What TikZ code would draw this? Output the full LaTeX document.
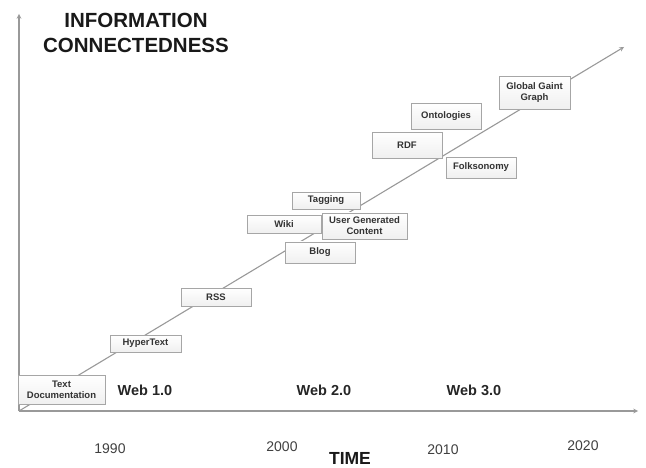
\documentclass[tikz,border=0pt]{standalone}
\usepackage{fontspec}
\setmainfont{Liberation Sans}
\usetikzlibrary{shadows}
\begin{document}
\begin{tikzpicture}[x=1pt, y=-1pt,
    box/.style={draw=gray!70, top color=white, bottom color=gray!12, line width=0.8pt, minimum width=70pt, minimum height=18pt,
        inner sep=1pt, align=center, text=black!80, font=\fontsize{9.5}{11}\selectfont\bfseries,
        drop shadow={shadow xshift=0.8pt, shadow yshift=-0.8pt, opacity=0.25}},
    era/.style={text=black!85, font=\fontsize{14.5}{16}\selectfont\bfseries},
    year/.style={text=black!75, font=\fontsize{14}{16}\selectfont},
    axis/.style={gray!80, line width=1.1pt, -stealth}]
    \useasboundingbox (0,0) rectangle (646,468);

    \coordinate (o) at (19,411);
    \coordinate (tend) at (638,411);
    \coordinate (iend) at (19,14);
    \coordinate (gend) at (624,47);
    \draw[axis] (o) -- (tend);
    \draw[axis] (o) -- (iend);
    \draw[axis] (o) -- (gend);

    \node[text=black!90, align=center, font=\fontsize{20.5}{25}\selectfont\bfseries] (info) at (136,33) {INFORMATION\\CONNECTEDNESS};
    \node[text=black!90, font=\fontsize{17.5}{20}\selectfont\bfseries] (time) at (350,458) {TIME};

    \foreach \yr/\x/\y in {1990/110/449, 2000/282/447, 2010/443/450, 2020/583/446}
        \node[year] (yr\yr) at (\x,\y) {\yr};

    \node[era] (web1) at (145,390) {Web 1.0};
    \node[era] (web2) at (324,390) {Web 2.0};
    \node[era] (web3) at (474,390) {Web 3.0};

    % web 1.0
    \node[box, minimum width=87pt, minimum height=29pt] (textdoc) at (61.5,389.5) {Text\\Documentation};
    \node[box, minimum width=71pt, minimum height=17pt] (hyper) at (145.5,343.5) {HyperText};
    \node[box] (rss) at (216,297) {RSS};

    % web 2.0
    \node[box, minimum width=68pt, minimum height=17pt] (tagging) at (326,200.5) {Tagging};
    \node[box, minimum width=74pt] (wiki) at (284,224) {Wiki};
    \node[box, minimum width=85pt, minimum height=26pt] (ugc) at (364.5,226) {User Generated\\Content};
    \node[box, minimum height=21pt] (blog) at (320,252.5) {Blog};

    % web 3.0
    \node[box, minimum width=71pt, minimum height=33pt] (ggg) at (534.5,92.5) {Global Gaint\\Graph};
    \node[box, minimum height=26pt] (onto) at (446,116) {Ontologies};
    \node[box, minimum height=26pt] (rdf) at (407,145) {RDF};
    \node[box, minimum height=21pt] (folk) at (481,167.5) {Folksonomy};
\end{tikzpicture}
\end{document}
